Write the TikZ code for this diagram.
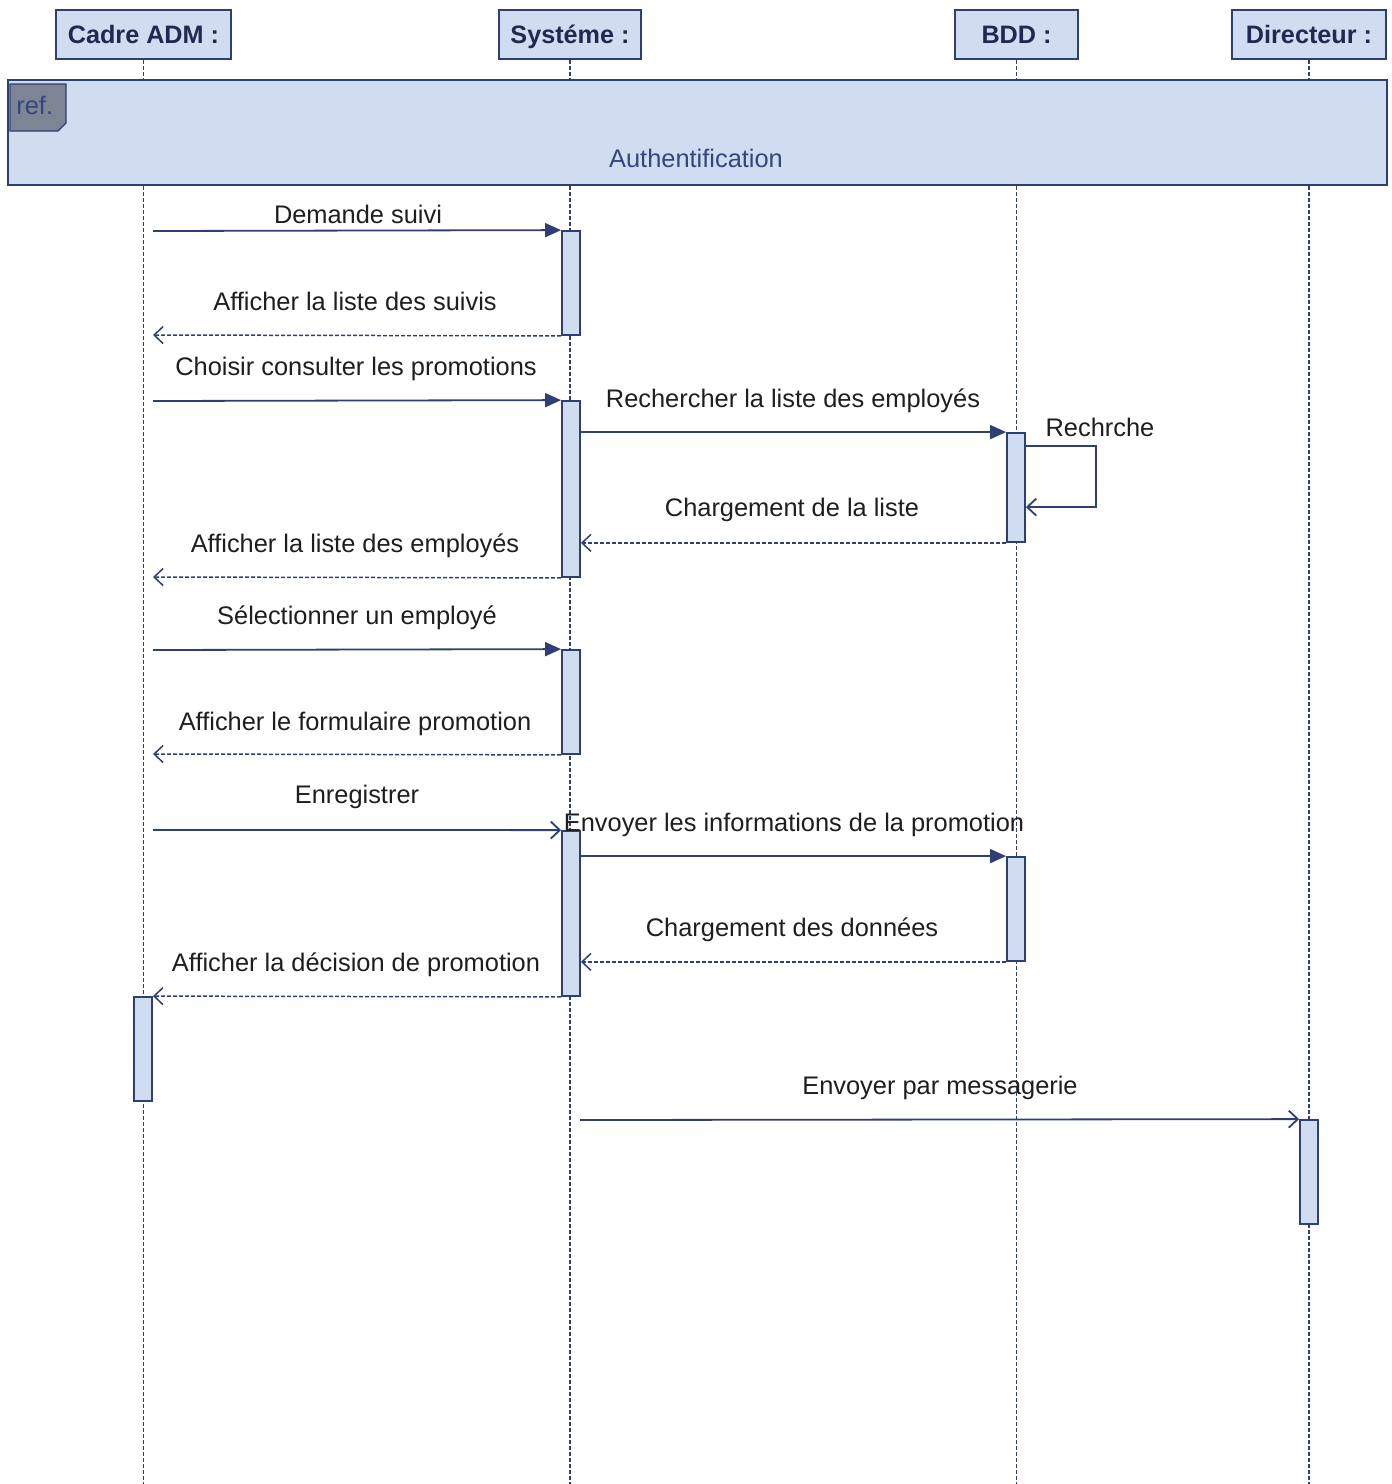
\documentclass[tikz,border=0pt]{standalone}
\usepackage{fontspec}
\setmainfont{Liberation Sans}
\usetikzlibrary{arrows.meta,calc}
\definecolor{umlline}{HTML}{2E3F74}
\definecolor{umlfill}{HTML}{D0DCEF}
\definecolor{umlhead}{HTML}{1F2A50}
\definecolor{reftag}{HTML}{7D8494}
\definecolor{reftext}{HTML}{34467E}
\definecolor{msgtext}{HTML}{1E1E1E}
\begin{document}
\begin{tikzpicture}[x=0.5pt,y=-0.5pt,
  head/.style={draw=umlline, fill=umlfill, line width=0.9pt, inner sep=0pt,
    font=\fontsize{12.6}{15}\selectfont\bfseries, text=umlhead,
    minimum height=24.5pt, text height=9pt, text depth=0.5pt},
  life/.style={draw=umlline, line width=0.65pt, dash pattern=on 2pt off 1pt},
  actbox/.style={draw=umlline, fill=umlfill, line width=0.9pt, inner sep=0pt, minimum width=9pt},
  lbl/.style={font=\fontsize{12.7}{15}\selectfont, text=msgtext, inner sep=0pt, anchor=base},
  call/.style={draw=umlline, line width=0.9pt, -{Triangle[length=8pt,width=7pt]}},
  ret/.style={draw=umlline, line width=0.75pt, dash pattern=on 2pt off 1pt,
    -{Straight Barb[length=4.5pt,width=8.5pt]}},
  async/.style={draw=umlline, line width=0.9pt, -{Straight Barb[length=4.5pt,width=8.5pt]}},
]
\useasboundingbox (0,0) rectangle (1392,1484);
\coordinate (bottom) at (0,1484);

% participants
\node[head, minimum width=87.5pt] (cadre) at (143.5,34.5) {Cadre ADM :};
\node[head, minimum width=71pt]   (sys)   at (570,34.5)   {Systéme :};
\node[head, minimum width=61.5pt] (bdd)   at (1016.5,34.5) {BDD :};
\node[head, minimum width=77pt]   (dir)   at (1309,34.5)  {Directeur :};

% lifelines
\draw[life] (cadre.south) -- (cadre.south |- bottom);
\draw[life] (sys.south)   -- (sys.south |- bottom);
\draw[life] (bdd.south)   -- (bdd.south |- bottom);
\draw[life] (dir.south)   -- (dir.south |- bottom);

% interaction use: Authentification
\node[draw=umlline, fill=umlfill, line width=0.9pt, inner sep=0pt,
      minimum width=689.5pt, minimum height=52.5pt] (ref) at (697.5,132.5) {};
\draw[draw=umlline, fill=reftag, line width=0.7pt]
  (10,84) -- (66,84) -- (66,123) -- (58,131) -- (10,131) -- cycle;
\node[lbl, anchor=west, text=reftext] (reftxt) at (16,105) {ref.};
\node[lbl, text=reftext] (refname) at (696,167) {Authentification};

% activations
\node[actbox, minimum height=52pt]   (s1) at (571,283)    {};
\node[actbox, minimum height=88pt]   (s2) at (571,489)    {};
\node[actbox, minimum height=52pt]   (s3) at (571,702)    {};
\node[actbox, minimum height=82.5pt] (s4) at (571,913.5)  {};
\node[actbox, minimum height=54.5pt] (b1) at (1016,487.5) {};
\node[actbox, minimum height=52pt]   (b2) at (1016,909)   {};
\node[actbox, minimum height=52pt]   (c1) at (143,1049)   {};
\node[actbox, minimum height=52pt]   (d1) at (1309,1172)  {};

% message ends on the Cadre ADM lifeline
\coordinate (c231) at (153,231);
\coordinate (c335) at (153,335);
\coordinate (c401) at (153,401);
\coordinate (c577) at (153,577);
\coordinate (c650) at (153,650);
\coordinate (c754) at (153,754);
\coordinate (c830) at (153,830);
\coordinate (s1120) at (580,1120);

% messages
\draw[call] (c231) -- (s1.north west);
\node[lbl] (l1) at (358,223) {Demande suivi};

\draw[ret] (s1.south west) -- (c335);
\node[lbl] (l2) at (355,310) {Afficher la liste des suivis};

\draw[call] (c401) -- (s2.north west);
\node[lbl] (l3) at (356,375) {Choisir consulter les promotions};

\draw[call] (b1.north -| s2.east) -- (b1.north west);
\node[lbl] (l4) at (793,407) {Rechercher la liste des employés};

\draw[async] ($(b1.north east)+(0,14)$) -- ++(70,0) -- ++(0,61) -- ($(b1.north east)+(0,75)$);
\node[lbl] (l5) at (1100,436) {Rechrche};

\draw[ret] (b1.south west) -- (b1.south -| s2.east);
\node[lbl] (l6) at (792,516) {Chargement de la liste};

\draw[ret] (s2.south west) -- (c577);
\node[lbl] (l7) at (355,552) {Afficher la liste des employés};

\draw[call] (c650) -- (s3.north west);
\node[lbl] (l8) at (357,624) {Sélectionner un employé};

\draw[ret] (s3.south west) -- (c754);
\node[lbl] (l9) at (355,730) {Afficher le formulaire promotion};

\draw[async] (c830) -- (s4.north west);
\node[lbl] (l10) at (357,803) {Enregistrer};

\draw[call] (b2.north -| s4.east) -- (b2.north west);
\node[lbl] (l11) at (794,831) {Envoyer les informations de la promotion};

\draw[ret] (b2.south west) -- (b2.south -| s4.east);
\node[lbl] (l12) at (792,936) {Chargement des données};

\draw[ret] (s4.south west) -- (c1.north east);
\node[lbl] (l13) at (356,971) {Afficher la décision de promotion};

\draw[async] (s1120) -- (d1.north west);
\node[lbl] (l14) at (940,1094) {Envoyer par messagerie};
\end{tikzpicture}
\end{document}
